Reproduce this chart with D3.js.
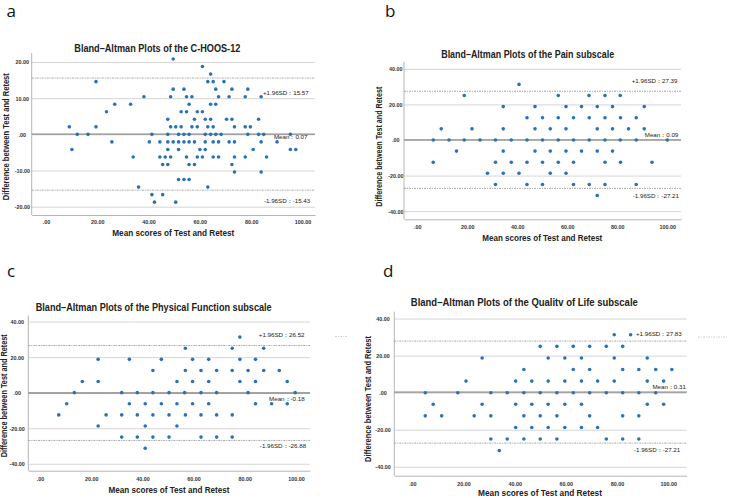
<!DOCTYPE html>
<html>
<head>
<meta charset="utf-8">
<script src="https://cdn.jsdelivr.net/npm/d3@7"></script>
<style>
  body { margin: 0; background: #fff; }
  svg { display: block; }
</style>
</head>
<body>
<div id="chart"></div>
<script>
var width = 730,
    height = 498;

// ---- data ----
var letters = ["a", "b", "c", "d"];
var titles = [
  "Bland–Altman Plots of the C-HOOS-12",
  "Bland–Altman Plots of the Pain subscale",
  "Bland–Altman Plots of the Physical Function subscale",
  "Bland–Altman Plots of the Qualitv of Life subscale"
];
var xTitle = "Mean scores of Test and Retest";
var yTitle = "Difference between Test and Retest";

var xTicks = [0, 20, 40, 60, 80, 100];
var xTickLabels = [".00", "20.00", "40.00", "60.00", "80.00", "100.00"];
var yTicksSmall = [20, 10, 0, -10, -20];
var yTickLabelsSmall = ["20.00", "10.00", ".00", "-10.00", "-20.00"];
var yTicksLarge = [40, 20, 0, -20, -40];
var yTickLabelsLarge = ["40.00", "20.00", ".00", "-20.00", "-40.00"];

var means    = [0.07, 0.09, -0.18, 0.31];
var upperLoA = [15.57, 27.39, 26.52, 27.83];
var lowerLoA = [-15.43, -27.21, -26.88, -27.21];

// each row: [difference, [mean scores of the subjects on that row]]
var hoosRows = [
  [20.83, [49.6]],
  [18.75, [61.0]],
  [16.67, [64.2]],
  [14.58, [19.5, 63.1, 65.2, 69.4]],
  [12.5, [49.6, 53.8, 66.2, 72.5, 78.7]],
  [10.42, [38.2, 48.6, 54.8, 56.9, 67.3, 71.4, 77.7, 83.9]],
  [8.33, [26.8, 33.0, 55.8, 64.2, 66.2]],
  [6.25, [23.6, 52.7, 54.8, 59.0, 61.0]],
  [4.17, [47.5, 57.9, 62.1, 64.2, 70.4, 72.5, 82.9]],
  [2.08, [9.1, 19.5, 48.6, 50.6, 52.7, 56.9, 59.0, 63.1, 65.2, 73.5, 77.7, 79.7]],
  [0, [12.2, 16.4, 41.3, 47.5, 51.7, 53.8, 55.8, 62.1, 64.2, 66.2, 68.3, 78.7, 82.9, 84.9, 95.3]],
  [-2.08, [25.7, 40.3, 44.4, 47.5, 49.6, 51.7, 53.8, 55.8, 57.9, 62.1, 65.2, 67.3, 71.4, 73.5, 83.9, 90.1]],
  [-4.17, [10.1, 47.5, 51.7, 60.0, 62.1, 80.8, 95.3, 97.4]],
  [-6.25, [34.0, 44.4, 46.5, 48.6, 54.8, 59.0, 61.0, 65.2, 67.3, 73.5, 77.7, 86.0]],
  [-8.33, [45.5, 47.5, 55.8, 57.9, 72.5]],
  [-10.42, [73.5, 83.9]],
  [-12.5, [51.7, 53.8, 55.8]],
  [-14.58, [36.1, 63.1]],
  [-16.67, [41.3, 45.5]],
  [-18.75, [42.3, 50.6]]
];

var painRows = [
  [31.25, [40.7]],
  [25, [18.8, 56.4, 68.7, 75.1, 81.2]],
  [18.75, [34.4, 47.1, 59.5, 65.7, 72.0, 78.1, 90.8]],
  [12.5, [43.9, 50.1, 56.4, 62.5, 68.8, 75.1, 81.3, 87.6]],
  [6.25, [9.6, 21.9, 34.4, 47.1, 53.2, 59.5, 72.0, 78.1, 84.5, 90.8]],
  [0, [6.4, 12.7, 18.8, 25.1, 31.3, 37.6, 43.9, 50.1, 56.4, 62.5, 68.8, 75.1, 81.2, 87.6, 100]],
  [-6.25, [15.7, 34.4, 47.1, 53.2, 59.5, 65.7, 72.0, 78.1]],
  [-12.5, [6.4, 31.3, 37.6, 43.9, 50.1, 56.4, 62.5, 75.1, 81.3, 93.9]],
  [-18.75, [28.1, 34.4, 40.7, 53.2, 59.5]],
  [-25, [31.3, 43.9, 50.1, 62.5, 68.8, 75.1, 87.6]],
  [-31.25, [72.0]]
];

var functionRows = [
  [31.25, [78.1]],
  [25, [56.8, 75.1, 87.4]],
  [18.75, [22.7, 34.9, 47.4, 59.6, 65.9, 78.1, 84.2]],
  [12.5, [44.1, 56.8, 62.9, 69.0, 75.1, 81.3, 87.4, 93.5]],
  [6.25, [16.5, 22.7, 53.5, 59.6, 65.9, 78.1, 84.2, 96.6]],
  [0, [13.4, 31.9, 38.0, 44.1, 50.4, 56.5, 62.9, 69.0, 81.3, 99.7]],
  [-6.25, [10.4, 34.9, 41.1, 47.4, 53.5, 59.6, 65.9, 84.2, 90.5, 96.6]],
  [-12.5, [7.3, 25.8, 31.9, 38.0, 44.1, 50.4, 56.8, 62.9, 69.0, 75.1]],
  [-18.75, [22.7, 41.1, 53.5]],
  [-25, [31.9, 38.0, 44.1, 50.4, 62.9, 69.0, 75.1]],
  [-31.25, [41.1]]
];

var qolRows = [
  [31.25, [78.9, 85.3]],
  [25, [50.0, 56.5, 62.9, 69.3, 75.8, 82.2]],
  [18.75, [27.3, 53.1, 59.6, 66.1, 78.9, 91.8]],
  [12.5, [43.6, 62.9, 69.3, 82.2, 88.5, 95.1, 101.4]],
  [6.25, [21.0, 40.4, 46.7, 53.1, 59.6, 66.1, 72.4, 78.9, 91.8, 98.2]],
  [0, [5.1, 17.8, 30.7, 37.1, 43.6, 50.0, 56.5, 62.9, 69.3, 75.8, 82.2, 88.5, 95.1]],
  [-6.25, [8.2, 27.3, 40.4, 46.7, 53.1, 59.6, 66.1, 91.8, 98.2]],
  [-12.5, [5.1, 11.5, 24.2, 30.7, 43.6, 50.0, 56.5, 69.3, 82.2, 88.5]],
  [-18.75, [40.4, 46.7, 53.1, 59.6, 66.1, 72.4]],
  [-25, [30.7, 37.1, 43.6, 50.0, 56.5, 75.8, 82.2, 88.5]],
  [-31.25, [34.0]]
];

// ---- layout of the four panels (pixels) ----
var panels = [
  { rows: hoosRows, yTicks: yTicksSmall, yLabels: yTickLabelsSmall,
    left: 31.7, right: 315, top: 53, bottom: 215, xDomain: [-5.57, 104.9], yDomain: [22.5, -22.3],
    letter: [6.5, 17], title: [157.3, 51.5, 166], xTitleAt: [173.3, 235.5, 122], yTitleAt: [6, 136.7, 127],
    yLabelOff: 9.4, xLabelOff: 7.2, labX: [84.6, 88.9, 85], labDy: [14.4, 3, 10.7] },
  { rows: painRows, yTicks: yTicksLarge, yLabels: yTickLabelsLarge,
    left: 404, right: 681, top: 61.7, bottom: 219.3, xDomain: [-5.3, 105.5], yDomain: [44.0, -44.6],
    letter: [385, 17], title: [527.7, 58.2, 173], xTitleAt: [542.3, 240.5, 120], yTitleAt: [379, 146.7, 120],
    yLabelOff: 8.2, xLabelOff: 8, labX: [85.8, 91, 86.2], labDy: [-10, -5.1, 7.6] },
  { rows: functionRows, yTicks: yTicksLarge, yLabels: yTickLabelsLarge,
    left: 28.3, right: 310, top: 315.7, bottom: 470.7, xDomain: [-4.6, 105.5], yDomain: [43.3, -43.9],
    letter: [7, 277], title: [153.7, 311, 236], xTitleAt: [169, 492.5, 121], yTitleAt: [4, 395.7, 123],
    yLabelOff: 11.1, xLabelOff: 8.5, labX: [85.5, 89.5, 85.9], labDy: [-10.5, 5.7, 5.5] },
  { rows: qolRows, yTicks: yTicksLarge, yLabels: yTickLabelsLarge,
    left: 394.3, right: 686.7, top: 311.7, bottom: 475.7, xDomain: [-7.0, 107.2], yDomain: [43.7, -44.8],
    letter: [383, 277], title: [524.3, 306.3, 227], xTitleAt: [540, 495.6, 124], yTitleAt: [368.3, 399, 126],
    yLabelOff: 11.3, xLabelOff: 8.5, labX: [87.4, 93.8, 86.6], labDy: [-6.8, -5.4, 6.9] }
];

var dotColor = "#2a72b5";

var svg = d3.select("#chart")
            .append("svg")
            .attr("width", width)
            .attr("height", height)
            .style("font-family", "'Liberation Sans', Arial, sans-serif");

panels.forEach(function(p, i) {
  var x = d3.scaleLinear().domain(p.xDomain).range([p.left, p.right]);
  var y = d3.scaleLinear().domain(p.yDomain).range([p.top, p.bottom]);
  var g = svg.append("g");

  // horizontal gridlines with y labels
  var yAxis = d3.axisLeft(y)
                .tickValues(p.yTicks)
                .tickSize(-(p.right - p.left))
                .tickFormat(function(d, k) { return p.yLabels[k]; });
  var ya = g.append("g").attr("transform", "translate(" + p.left + ",0)").call(yAxis);
  ya.select(".domain").remove();
  ya.selectAll(".tick line").attr("stroke", "#d6d6d6").attr("stroke-width", 1);
  ya.selectAll(".tick text")
    .attr("x", -p.yLabelOff)
    .attr("dy", "0.35em")
    .attr("text-anchor", "middle")
    .attr("font-size", 5.4)
    .attr("font-weight", "bold")
    .attr("fill", "#333");

  // bottom axis
  var xAxis = d3.axisBottom(x)
                .tickValues(xTicks)
                .tickSize(0)
                .tickPadding(0)
                .tickFormat(function(d, k) { return xTickLabels[k]; });
  var xa = g.append("g").attr("transform", "translate(0," + p.bottom + ")").call(xAxis);
  xa.select(".domain").attr("stroke", "#b5b5b5").attr("stroke-width", 1);
  xa.selectAll(".tick text")
    .attr("y", p.xLabelOff)
    .attr("dy", "0.35em")
    .attr("font-size", 5.4)
    .attr("font-weight", "bold")
    .attr("fill", "#333");

  // left axis line
  g.append("line")
   .attr("x1", p.left).attr("x2", p.left)
   .attr("y1", p.top).attr("y2", p.bottom)
   .attr("stroke", "#b5b5b5").attr("stroke-width", 1);

  // mean line
  g.append("line")
   .attr("x1", p.left).attr("x2", p.right)
   .attr("y1", y(means[i])).attr("y2", y(means[i]))
   .attr("stroke", "#8a8a8a").attr("stroke-width", 1.3);

  // limits of agreement
  [upperLoA[i], lowerLoA[i]].forEach(function(v) {
    g.append("line")
     .attr("x1", p.left).attr("x2", p.right)
     .attr("y1", y(v)).attr("y2", y(v))
     .attr("stroke", "#9a9a9a").attr("stroke-width", 0.9)
     .attr("stroke-dasharray", "2,1,1,1");
  });

  // points
  var pts = [];
  p.rows.forEach(function(r) {
    r[1].forEach(function(m) { pts.push({ mean: m, diff: r[0] }); });
  });
  g.selectAll("circle.pt")
   .data(pts)
   .enter()
   .append("circle")
   .attr("class", "pt")
   .attr("cx", function(d) { return x(d.mean); })
   .attr("cy", function(d) { return y(d.diff); })
   .attr("r", 1.8)
   .attr("fill", dotColor);

  // line labels
  var labels = [
    ["+1.96SD：" + upperLoA[i].toFixed(2), upperLoA[i]],
    ["Mean：" + means[i].toFixed(2), means[i]],
    ["-1.96SD：" + lowerLoA[i].toFixed(2), lowerLoA[i]]
  ];
  labels.forEach(function(l, k) {
    g.append("text")
     .attr("x", x(p.labX[k]))
     .attr("y", y(l[1]) + p.labDy[k])
     .attr("dy", "0.35em")
     .attr("font-size", 6.2)
     .attr("fill", "#222")
     .text(l[0]);
  });

  // panel title
  g.append("text")
   .attr("x", p.title[0]).attr("y", p.title[1])
   .attr("text-anchor", "middle")
   .attr("font-size", 10)
   .attr("font-weight", "bold")
   .attr("fill", "#222")
   .attr("textLength", p.title[2])
   .attr("lengthAdjust", "spacingAndGlyphs")
   .text(titles[i]);

  // axis titles
  g.append("text")
   .attr("x", p.xTitleAt[0]).attr("y", p.xTitleAt[1])
   .attr("text-anchor", "middle")
   .attr("font-size", 8.4)
   .attr("font-weight", "bold")
   .attr("fill", "#222")
   .attr("textLength", p.xTitleAt[2])
   .attr("lengthAdjust", "spacingAndGlyphs")
   .text(xTitle);

  g.append("text")
   .attr("transform", "translate(" + p.yTitleAt[0] + "," + p.yTitleAt[1] + ") rotate(-90)")
   .attr("text-anchor", "middle")
   .attr("dy", "0.35em")
   .attr("font-size", 8.6)
   .attr("font-weight", "bold")
   .attr("fill", "#222")
   .attr("textLength", p.yTitleAt[2])
   .attr("lengthAdjust", "spacingAndGlyphs")
   .text(yTitle);

  // panel letter
  svg.append("text")
     .attr("x", p.letter[0]).attr("y", p.letter[1])
     .attr("font-size", 17)
     .attr("font-family", "'Open Sans', sans-serif")
     .attr("fill", "#111")
     .text(letters[i]);
});

// stray dashed fragments to the right of the lower panels
[[335, 348, 336.5], [698, 728, 337]].forEach(function(s) {
  svg.append("line")
     .attr("x1", s[0]).attr("x2", s[1])
     .attr("y1", s[2]).attr("y2", s[2])
     .attr("stroke", "#c8c8c8").attr("stroke-width", 0.8)
     .attr("stroke-dasharray", "2,1,1,1");
});
</script>
</body>
</html>
